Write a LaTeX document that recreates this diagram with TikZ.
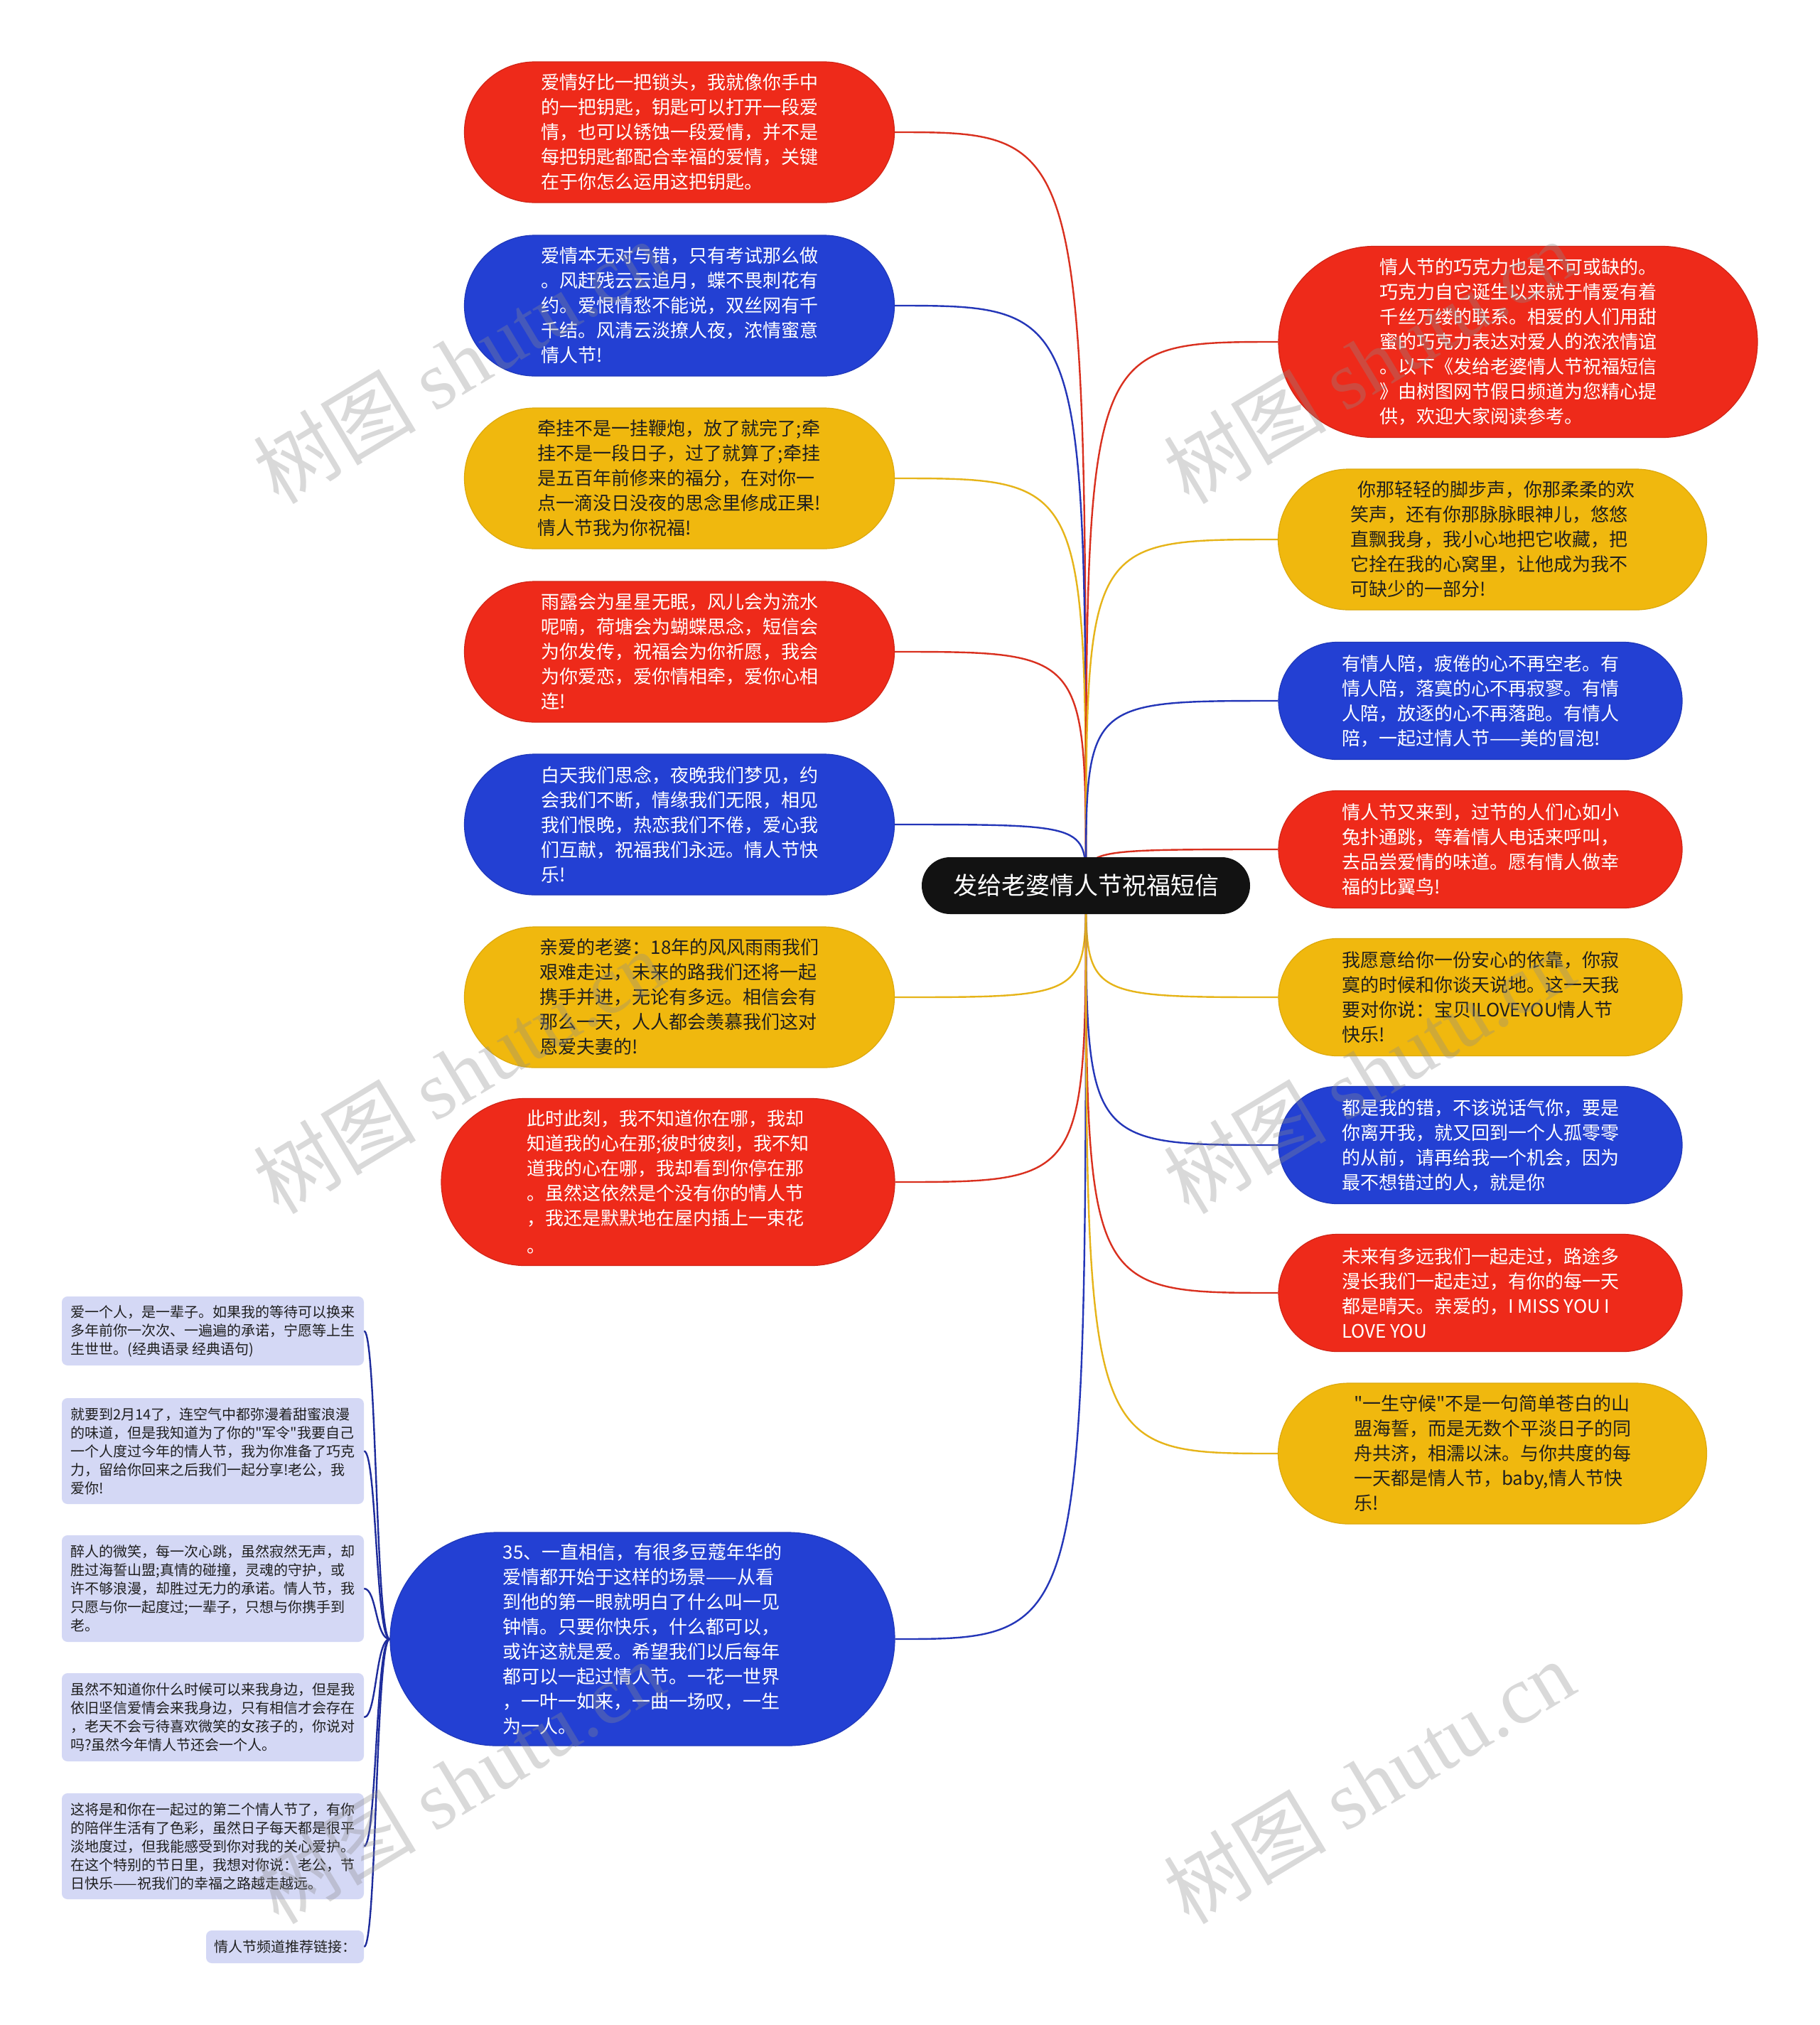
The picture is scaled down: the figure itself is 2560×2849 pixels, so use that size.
\documentclass[tikz,border=0pt]{standalone}
\usepackage{fontspec}
\setmainfont{Noto Sans CJK SC}
\newfontfamily\cjkq{Noto Sans CJK SC}
\newfontfamily\wmlat{Liberation Serif}
\newcommand\dq{{\cjkq\char34}}
\usetikzlibrary{shapes.misc}
\pgfdeclarelayer{background}
\pgfdeclarelayer{foreground}
\pgfsetlayers{background,main,foreground}
\definecolor{cred}{HTML}{EE2A1A}
\definecolor{cblue}{HTML}{2340D3}
\definecolor{cyel}{HTML}{F0B80E}
\definecolor{clav}{HTML}{D4D8F5}
\definecolor{cdark}{HTML}{1F1F1F}
\definecolor{lred}{HTML}{D9301F}
\definecolor{lblue}{HTML}{2436B8}
\definecolor{lyel}{HTML}{E6B419}
\definecolor{lnavy}{HTML}{1E2C9C}
\tikzset{
  pill/.style={rounded rectangle, inner sep=0pt, align=left, line width=1.2pt,
    font=\fontsize{26}{35}\selectfont},
  redpill/.style={pill, fill=cred, draw=cred!88!black, text=white},
  bluepill/.style={pill, fill=cblue, draw=cblue!88!black, text=white},
  yelpill/.style={pill, fill=cyel, draw=cyel!92!black, text=cdark},
  small/.style={rectangle, rounded corners=8pt, fill=clav, inner sep=0pt, align=left,
    text=cdark, font=\fontsize{20}{26}\selectfont},
  rootbox/.style={rounded rectangle, fill=black!93, text=white, inner sep=0pt,
    font=\fontsize{34}{40}\selectfont, minimum width=462pt, minimum height=80pt},
  conn/.style={draw=#1, line width=2.4pt},
  sconn/.style={draw=lnavy, line width=2.4pt},
  wm/.style={text=black!45, opacity=0.33, rotate=31, font=\fontsize{115}{125}\selectfont}
}
\begin{document}
\begin{tikzpicture}[x=1pt, y=-1pt]
\useasboundingbox (0,0) rectangle (2560,2849);

\node[rootbox] (C) at (1528,1246) {发给老婆情人节祝福短信};

% left column
\node[redpill, minimum width=605pt, minimum height=198pt] (L1) at (956,186)
{爱情好比一把锁头，我就像你手中\\的一把钥匙，钥匙可以打开一段爱\\情，也可以锈蚀一段爱情，并不是\\每把钥匙都配合幸福的爱情，关键\\在于你怎么运用这把钥匙。};
\node[bluepill, minimum width=605pt, minimum height=198pt] (L2) at (956,430)
{爱情本无对与错，只有考试那么做\\。风赶残云云追月，蝶不畏刺花有\\约。爱恨情愁不能说，双丝网有千\\千结。风清云淡撩人夜，浓情蜜意\\情人节!};
\node[yelpill, minimum width=605pt, minimum height=198pt] (L3) at (956,673)
{牵挂不是一挂鞭炮，放了就完了;牵\\挂不是一段日子，过了就算了;牵挂\\是五百年前修来的福分，在对你一\\点一滴没日没夜的思念里修成正果!\\情人节我为你祝福!};
\node[redpill, minimum width=605pt, minimum height=198pt] (L4) at (956,917)
{雨露会为星星无眠，风儿会为流水\\呢喃，荷塘会为蝴蝶思念，短信会\\为你发传，祝福会为你祈愿，我会\\为你爱恋，爱你情相牵，爱你心相\\连!};
\node[bluepill, minimum width=605pt, minimum height=198pt] (L5) at (956,1160)
{白天我们思念，夜晚我们梦见，约\\会我们不断，情缘我们无限，相见\\我们恨晚，热恋我们不倦，爱心我\\们互献，祝福我们永远。情人节快\\乐!};
\node[yelpill, minimum width=605pt, minimum height=198pt] (L6) at (956,1403)
{亲爱的老婆：18年的风风雨雨我们\\艰难走过，未来的路我们还将一起\\携手并进，无论有多远。相信会有\\那么一天，人人都会羡慕我们这对\\恩爱夫妻的!};
\node[redpill, minimum width=638pt, minimum height=235pt] (L7) at (940,1663)
{此时此刻，我不知道你在哪，我却\\知道我的心在那;彼时彼刻，我不知\\道我的心在哪，我却看到你停在那\\。虽然这依然是个没有你的情人节\\，我还是默默地在屋内插上一束花\\[4pt]。};
\node[bluepill, minimum width=710pt, minimum height=300pt] (L8) at (904,2306)
{35、一直相信，有很多豆蔻年华的\\爱情都开始于这样的场景——从看\\到他的第一眼就明白了什么叫一见\\钟情。只要你快乐，什么都可以，\\或许这就是爱。希望我们以后每年\\都可以一起过情人节。一花一世界\\，一叶一如来，一曲一场叹，一生\\为一人。};

% right column
\node[redpill, minimum width=674pt, minimum height=269pt] (R1) at (2136,481)
{情人节的巧克力也是不可或缺的。\\巧克力自它诞生以来就于情爱有着\\千丝万缕的联系。相爱的人们用甜\\蜜的巧克力表达对爱人的浓浓情谊\\。以下《发给老婆情人节祝福短信\\》由树图网节假日频道为您精心提\\供，欢迎大家阅读参考。};
\node[yelpill, minimum width=603pt, minimum height=198pt] (R2) at (2100,759)
{\hspace*{10pt}你那轻轻的脚步声，你那柔柔的欢\\笑声，还有你那脉脉眼神儿，悠悠\\直飘我身，我小心地把它收藏，把\\它拴在我的心窝里，让他成为我不\\可缺少的一部分!};
\node[bluepill, minimum width=568pt, minimum height=165pt] (R3) at (2083,986)
{有情人陪，疲倦的心不再空老。有\\情人陪，落寞的心不再寂寥。有情\\人陪，放逐的心不再落跑。有情人\\陪，一起过情人节——美的冒泡!};
\node[redpill, minimum width=568pt, minimum height=165pt] (R4) at (2083,1195)
{情人节又来到，过节的人们心如小\\兔扑通跳，等着情人电话来呼叫，\\去品尝爱情的味道。愿有情人做幸\\福的比翼鸟!};
\node[yelpill, minimum width=568pt, minimum height=165pt] (R5) at (2083,1403)
{我愿意给你一份安心的依靠，你寂\\寞的时候和你谈天说地。这一天我\\要对你说：宝贝ILOVEYOU情人节\\快乐!};
\node[bluepill, minimum width=568pt, minimum height=165pt] (R6) at (2083,1611)
{都是我的错，不该说话气你，要是\\你离开我，就又回到一个人孤零零\\的从前，请再给我一个机会，因为\\最不想错过的人，就是你};
\node[redpill, minimum width=568pt, minimum height=165pt] (R7) at (2083,1819)
{未来有多远我们一起走过，路途多\\漫长我们一起走过，有你的每一天\\都是晴天。亲爱的，I MISS YOU I\\LOVE YOU};
\node[yelpill, minimum width=603pt, minimum height=198pt] (R8) at (2100,2045)
{\dq 一生守候\dq 不是一句简单苍白的山\\盟海誓，而是无数个平淡日子的同\\舟共济，相濡以沫。与你共度的每\\一天都是情人节，baby,情人节快\\乐!};

% small nodes
\node[small, minimum width=425pt, minimum height=97pt] (S1) at (299.5,1872.5)
{爱一个人，是一辈子。如果我的等待可以换来\\多年前你一次次、一遍遍的承诺，宁愿等上生\\生世世。(经典语录 经典语句)};
\node[small, minimum width=425pt, minimum height=149pt] (S2) at (299.5,2041.5)
{就要到2月14了，连空气中都弥漫着甜蜜浪漫\\的味道，但是我知道为了你的\dq 军令\dq 我要自己\\一个人度过今年的情人节，我为你准备了巧克\\力，留给你回来之后我们一起分享!老公，我\\爱你!};
\node[small, minimum width=425pt, minimum height=150pt] (S3) at (299.5,2235)
{醉人的微笑，每一次心跳，虽然寂然无声，却\\胜过海誓山盟;真情的碰撞，灵魂的守护，或\\许不够浪漫，却胜过无力的承诺。情人节，我\\只愿与你一起度过;一辈子，只想与你携手到\\老。};
\node[small, minimum width=425pt, minimum height=124pt] (S4) at (299.5,2416)
{虽然不知道你什么时候可以来我身边，但是我\\依旧坚信爱情会来我身边，只有相信才会存在\\，老天不会亏待喜欢微笑的女孩子的，你说对\\吗?虽然今年情人节还会一个人。};
\node[small, minimum width=425pt, minimum height=149pt] (S5) at (299.5,2597.5)
{这将是和你在一起过的第二个情人节了，有你\\的陪伴生活有了色彩，虽然日子每天都是很平\\淡地度过，但我能感受到你对我的关心爱护。\\在这个特别的节日里，我想对你说：老公，节\\日快乐——祝我们的幸福之路越走越远。};
\node[small, minimum width=222pt, minimum height=46pt] (S6) at (401,2739)
{情人节频道推荐链接：};

\begin{pgfonlayer}{background}
\fill[white] (0,0) rectangle (2560,2849);
\foreach \n/\c in {L1/lred,L2/lblue,L3/lyel,L4/lred,L5/lblue,L6/lyel,L7/lred,L8/lblue}
  \draw[conn=\c] (C.center) .. controls (C.center |- \n.east) .. (\n.east);
\foreach \n/\c in {R1/lred,R2/lyel,R3/lblue,R4/lred,R5/lyel,R6/lblue,R7/lred,R8/lyel}
  \draw[conn=\c] (C.center) .. controls (C.center |- \n.west) .. (\n.west);
\foreach \n in {S1,S2,S3,S4,S5,S6}
  \draw[sconn] (\n.east) .. controls ([xshift=18pt]\n.east) and ([xshift=-20pt]L8.west) .. (L8.west);
\end{pgfonlayer}

\begin{pgfonlayer}{foreground}
\foreach \p/\q in {645/509,1926/509,645/1508,1926/1508,645/2507,1926/2507}
  \node[wm] (wm\p\q) at (\p,\q) {树图 {\wmlat shutu.cn}};
\end{pgfonlayer}
\end{tikzpicture}
\end{document}
